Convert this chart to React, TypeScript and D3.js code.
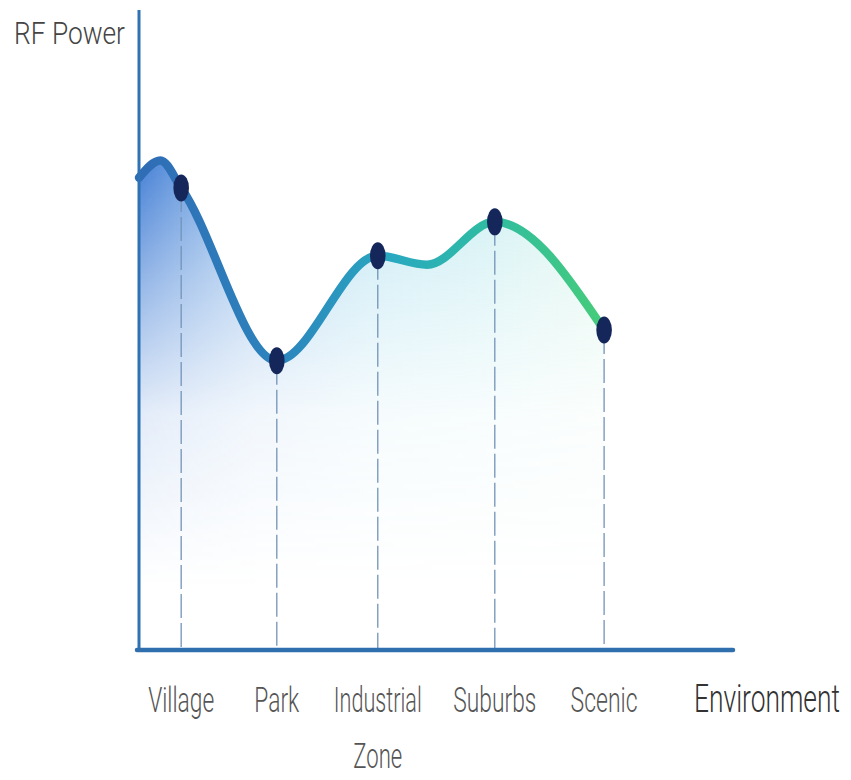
import React from "react";
import * as d3 from "d3";

// ---- data ----
const categories = ["Village", "Park", "Industrial Zone", "Suburbs", "Scenic"];
// position of each category along the x axis (0 = origin, 100 = axis end)
const categoryPos = [7.1, 23.2, 40.2, 59.9, 78.3];
// RF power (relative, 0..100 of y axis height)
const rfPower = [72.2, 45.2, 61.6, 66.9, 50.0];
// unlabeled points the drawn curve also passes through (start hump and dip)
const extraPos = [0, 3.6, 48.5];
const extraPower = [73.8, 76.5, 60.2];

const axisTitleY = "RF Power";
const axisTitleX = "Environment";

const FONT = "Roboto, 'Liberation Sans', sans-serif";

let ctx: CanvasRenderingContext2D | null = null;
function measure(text: string, size: number, weight = 300): number {
  if (!ctx && typeof document !== "undefined") {
    ctx = document.createElement("canvas").getContext("2d");
  }
  if (!ctx) return text.length * size * 0.5;
  ctx.font = `${weight} ${size}px ${FONT}`;
  return ctx.measureText(text).width || text.length * size * 0.5;
}

function Squeezed(props: {
  text: string;
  x: number;
  y: number;
  width: number;
  size: number;
  anchor: "start" | "middle";
  fill: string;
}) {
  const sx = props.width / measure(props.text, props.size);
  return (
    <text
      transform={`translate(${props.x},${props.y}) scale(${sx},1)`}
      textAnchor={props.anchor}
      fontFamily={FONT}
      fontWeight={300}
      fontSize={props.size}
      fill={props.fill}
    >
      {props.text}
    </text>
  );
}

export default function App() {
  const W = 851;
  const H = 780;
  const x = d3.scaleLinear().domain([0, 100]).range([139, 733]);
  const y = d3.scaleLinear().domain([0, 100]).range([650, 10]);

  const pts = categoryPos
    .map((p, i) => ({ p, v: rfPower[i] }))
    .concat(extraPos.map((p, i) => ({ p, v: extraPower[i] })))
    .sort((a, b) => a.p - b.p);

  const line = d3
    .line<{ p: number; v: number }>()
    .x((d) => x(d.p))
    .y((d) => y(d.v))
    .curve(d3.curveMonotoneX);
  const area = d3
    .area<{ p: number; v: number }>()
    .x((d) => x(d.p))
    .y0(y(0))
    .y1((d) => y(d.v))
    .curve(d3.curveMonotoneX);

  const xStart = x(0);
  const xEnd = x(categoryPos[categoryPos.length - 1]);

  const labelWidths: Record<string, number[]> = {
    Village: [66],
    Park: [45],
    "Industrial Zone": [88, 49],
    Suburbs: [83],
    Scenic: [67],
  };

  return (
    <div style={{ position: "absolute", left: 0, top: 0 }}>
      <svg width={W} height={H} style={{ display: "block", background: "#fff" }}>
        <defs>
          <linearGradient id="lineGrad" gradientUnits="userSpaceOnUse" x1={xStart} x2={xEnd} y1={0} y2={0}>
            <stop offset="0" stopColor="#2f6cb5" />
            <stop offset="0.3" stopColor="#2c84bd" />
            <stop offset="0.55" stopColor="#29a9c0" />
            <stop offset="0.75" stopColor="#2fbca2" />
            <stop offset="1" stopColor="#46cc7a" />
          </linearGradient>
          <linearGradient id="areaGrad" gradientUnits="userSpaceOnUse" x1={xStart} x2={xEnd} y1={0} y2={0}>
            <stop offset="0" stopColor="#2e6fd0" stopOpacity="0.9" />
            <stop offset="0.25" stopColor="#4a8fda" stopOpacity="0.5" />
            <stop offset="0.5" stopColor="#66c4e2" stopOpacity="0.4" />
            <stop offset="0.75" stopColor="#74d2dc" stopOpacity="0.35" />
            <stop offset="1" stopColor="#98e2c6" stopOpacity="0.3" />
          </linearGradient>
          <linearGradient id="fadeGrad" gradientUnits="userSpaceOnUse" x1={0} x2={0} y1={y(77)} y2={y(10)}>
            <stop offset="0" stopColor="#fff" stopOpacity="1" />
            <stop offset="0.3" stopColor="#fff" stopOpacity="0.55" />
            <stop offset="0.6" stopColor="#fff" stopOpacity="0.15" />
            <stop offset="1" stopColor="#fff" stopOpacity="0" />
          </linearGradient>
          <mask id="fadeMask" maskUnits="userSpaceOnUse" x={0} y={0} width={W} height={H}>
            <rect x={0} y={0} width={W} height={H} fill="url(#fadeGrad)" />
          </mask>
        </defs>

        {/* area */}
        <path d={area(pts) || ""} fill="url(#areaGrad)" mask="url(#fadeMask)" />

        {/* dashed drop lines */}
        {categoryPos.map((p, i) => (
          <line
            key={"d" + i}
            x1={x(p)}
            x2={x(p)}
            y1={y(rfPower[i])}
            y2={y(0) - 2}
            stroke="#7393b8"
            strokeWidth={1.3}
            strokeDasharray="24 5"
          />
        ))}

        {/* curve */}
        <path
          d={line(pts) || ""}
          fill="none"
          stroke="url(#lineGrad)"
          strokeWidth={8.5}
          strokeLinecap="round"
          strokeLinejoin="round"
        />

        {/* axes */}
        <line x1={x(0)} x2={x(0)} y1={y(100)} y2={y(0) + 2} stroke="#2e72b4" strokeWidth={3} />
        <line x1={x(0) - 2} x2={x(100)} y1={y(0)} y2={y(0)} stroke="#2f6fae" strokeWidth={4.5} strokeLinecap="round" />

        {/* dots */}
        {categoryPos.map((p, i) => (
          <ellipse key={"c" + i} cx={x(p)} cy={y(rfPower[i])} rx={7.8} ry={13.5} fill="#15275a" />
        ))}

        {/* category labels */}
        {categories.map((c, i) => {
          const parts = c === "Industrial Zone" ? ["Industrial", "Zone"] : [c];
          return parts.map((t, j) => (
            <Squeezed
              key={c + j}
              text={t}
              x={x(categoryPos[i])}
              y={712 + j * 56}
              width={labelWidths[c][j]}
              size={35}
              anchor="middle"
              fill="#555"
            />
          ));
        })}

        <Squeezed text={axisTitleX} x={694} y={712} width={146} size={38} anchor="start" fill="#333" />
        <Squeezed text={axisTitleY} x={14} y={44} width={111} size={32} anchor="start" fill="#444" />
      </svg>
    </div>
  );
}
